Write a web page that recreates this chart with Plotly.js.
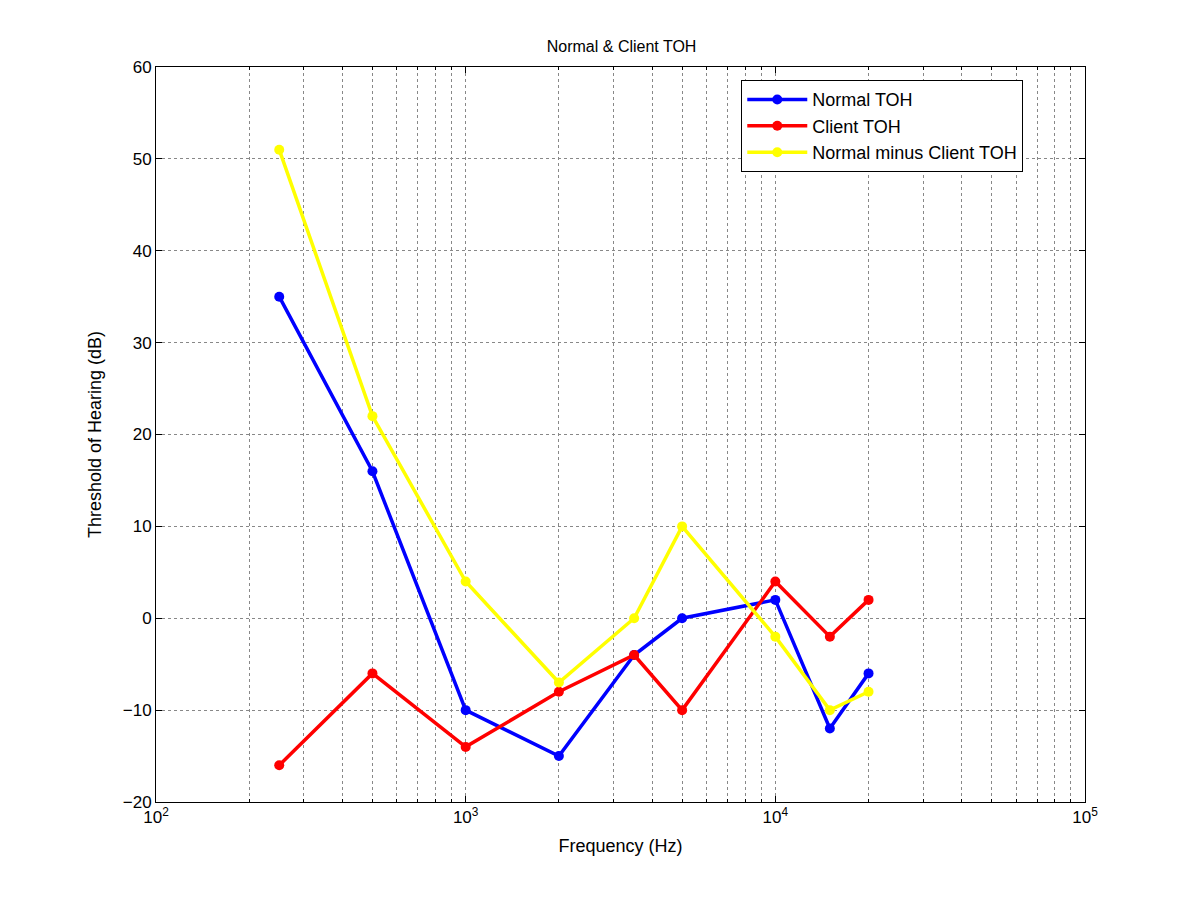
<!DOCTYPE html>
<html>
<head>
<meta charset="utf-8">
<script src="https://cdn.plot.ly/plotly-3.0.1.min.js"></script>
<style>body{margin:0;background:#fff}#chart{width:1200px;height:900px}</style>
</head>
<body>
<div id="chart"></div>
<script>
const freqs = [250, 500, 1000, 2000, 3500, 5000, 10000, 15000, 20000];
const normalToh = [35, 16, -10, -15, -4, 0, 2, -12, -6];
const clientToh = [-16, -6, -14, -8, -4, -10, 4, -2, 2];
const diffToh = [51, 22, 4, -7, 0, 10, -2, -10, -8];
const xTickVals = [100, 1000, 10000, 100000];
const xTickText = ["10<sup>2</sup>", "10<sup>3</sup>", "10<sup>4</sup>", "10<sup>5</sup>"];

function series(name, y, color) {
  return {
    type: "scatter", mode: "lines+markers", name: name, x: freqs, y: y,
    line: { color: color, width: 3.5 },
    marker: { color: color, size: 10 },
  };
}

const traces = [
  series("Normal TOH", normalToh, "#0000ff"),
  series("Client TOH", clientToh, "#ff0000"),
  series("Normal minus Client TOH", diffToh, "#ffff00"),
];

const axisBase = {
  showline: true, mirror: "ticks", linecolor: "#000", linewidth: 1,
  ticks: "inside", ticklen: 6, tickcolor: "#000",
  showgrid: true, gridcolor: "#888", griddash: "dot", zeroline: false,
  tickfont: { family: "Liberation Sans, Arial", size: 17, color: "#000" },
};

const layout = {
  width: 1200, height: 900,
  paper_bgcolor: "#fff", plot_bgcolor: "#fff",
  margin: { l: 156, r: 115, t: 67, b: 98 },
  title: { text: "Normal & Client TOH", font: { family: "Liberation Sans, Arial", size: 16, color: "#000" }, x: 0.518, y: 0.955 },
  xaxis: Object.assign({}, axisBase, {
    type: "log", range: [2, 5], tickvals: xTickVals, ticktext: xTickText,
    minor: { dtick: "D1", showgrid: true, gridcolor: "#888", griddash: "dot", ticks: "inside", ticklen: 3, tickcolor: "#000" },
    title: { text: "Frequency (Hz)", font: { family: "Liberation Sans, Arial", size: 18, color: "#000" }, standoff: 12 },
  }),
  yaxis: Object.assign({}, axisBase, {
    range: [-20, 60], dtick: 10,
    title: { text: "Threshold of Hearing (dB)", font: { family: "Liberation Sans, Arial", size: 18, color: "#000" }, standoff: 16 },
  }),
  legend: {
    x: 0.63, y: 0.982, xanchor: "left", yanchor: "top",
    bgcolor: "#fff", bordercolor: "#000", borderwidth: 1,
    font: { family: "Liberation Sans, Arial", size: 18, color: "#000" },
    tracegroupgap: 0, itemwidth: 60,
  },
  showlegend: true,
};

Plotly.newPlot("chart", traces, layout, { displayModeBar: false, staticPlot: true });
</script>
</body>
</html>
